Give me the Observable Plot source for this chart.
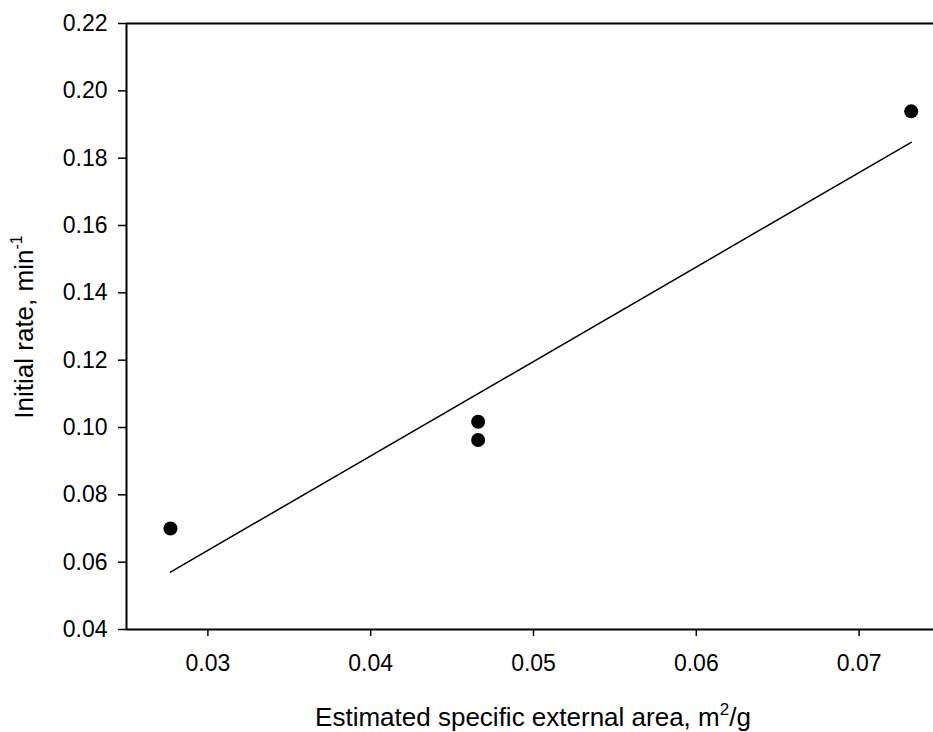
<!DOCTYPE html>
<html>
<head>
<meta charset="utf-8">
<script src="https://cdn.jsdelivr.net/npm/d3@7"></script>
<script src="https://cdn.jsdelivr.net/npm/@observablehq/plot@0.6"></script>
<style>
  html, body { margin: 0; padding: 0; background: #fff; overflow: hidden; }
  #chart svg { overflow: hidden; }
</style>
</head>
<body>
<div id="chart"></div>
<script>
// Data
const areaValues = [0.0277, 0.0466, 0.0466, 0.0732];   // m²/g
const rateValues = [0.0700, 0.1017, 0.0963, 0.1939];   // min⁻¹
const xTickValues = [0.03, 0.04, 0.05, 0.06, 0.07];
const yTickValues = [0.04, 0.06, 0.08, 0.10, 0.12, 0.14, 0.16, 0.18, 0.20, 0.22];
const xTitle = "Estimated specific external area, m";
const xTitleSup = "2";
const xTitleTail = "/g";
const yTitle = "Initial rate, min";
const yTitleSup = "-1";

const data = areaValues.map((x, i) => ({x, y: rateValues[i]}));
const FONT = "'Liberation Sans', Arial, sans-serif";

const chart = Plot.plot({
  width: 933,
  height: 732,
  marginLeft: 126,
  marginRight: -7,
  marginTop: 23,
  marginBottom: 103,
  style: {fontFamily: FONT, background: "white", color: "black"},
  x: {domain: [0.025, 0.075]},
  y: {domain: [0.04, 0.22]},
  marks: [
    Plot.ruleX([0.025], {stroke: "black", strokeWidth: 2}),
    Plot.ruleY([0.04], {stroke: "black", strokeWidth: 2}),
    Plot.ruleY([0.22], {stroke: "black", strokeWidth: 2}),
    Plot.axisX({ticks: xTickValues, tickFormat: d3.format(".2f"), tickSize: 7, tickPadding: 18,
      fontSize: 23, strokeWidth: 1.5, label: null}),
    Plot.axisY({ticks: yTickValues, tickFormat: d3.format(".2f"), tickSize: 8, tickPadding: 11,
      fontSize: 23, strokeWidth: 1.5, label: null}),
    Plot.linearRegressionY(data, {x: "x", y: "y", ci: 0, stroke: "black", strokeWidth: 1.5}),
    Plot.dot(data, {x: "x", y: "y", r: 7, fill: "black", stroke: "none"})
  ]
});

document.getElementById("chart").appendChild(chart);

const svg = d3.select(chart);
// x-axis title
const xt = svg.append("text")
  .attr("x", 533).attr("y", 726)
  .attr("text-anchor", "middle")
  .attr("font-family", FONT).attr("font-size", 26).attr("fill", "black");
xt.append("tspan").text(xTitle);
xt.append("tspan").attr("font-size", 17).attr("dy", -11).text(xTitleSup);
xt.append("tspan").attr("dy", 11).text(xTitleTail);

// y-axis title
const yt = svg.append("text")
  .attr("transform", "translate(33,327) rotate(-90)")
  .attr("text-anchor", "middle")
  .attr("font-family", FONT).attr("font-size", 26).attr("fill", "black");
yt.append("tspan").text(yTitle);
yt.append("tspan").attr("font-size", 16).attr("dy", -11).text(yTitleSup);
</script>
</body>
</html>
